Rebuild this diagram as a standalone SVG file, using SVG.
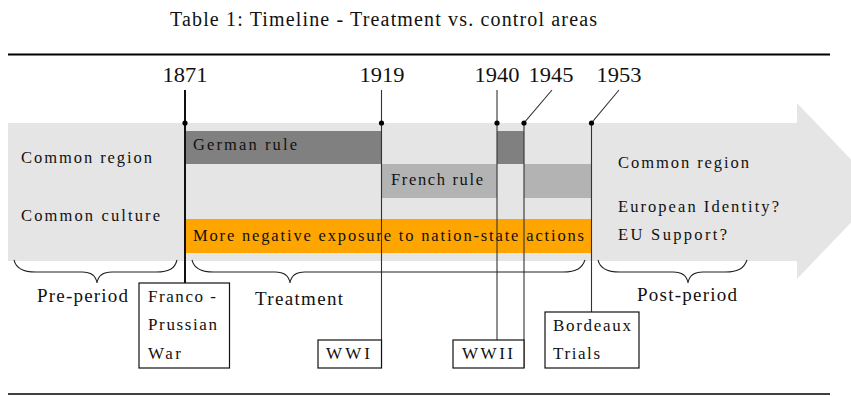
<svg xmlns="http://www.w3.org/2000/svg" width="851" height="396" viewBox="0 0 851 396">
<style>
text{font-family:"Liberation Serif","DejaVu Serif",serif;fill:#111}
.yr{font-size:22px;text-anchor:middle}
.lb{font-size:16.5px}
.bx{font-size:17px}
.pd{font-size:19px}
.cap{font-size:20px;text-anchor:middle}
.vl{stroke:#333;stroke-width:1.1;fill:none}
.box{fill:#fff;stroke:#111;stroke-width:1.2}
.brace{fill:none;stroke:#222;stroke-width:1.1}
.dot{fill:#000}
</style>
<rect width="851" height="396" fill="#fff"/>
<text class="cap" x="383.5" y="26" textLength="427" lengthAdjust="spacing">Table 1: Timeline - Treatment vs. control areas</text>
<line x1="8" y1="54.5" x2="830" y2="54.5" stroke="#000" stroke-width="2.2"/>
<line x1="8" y1="394" x2="830" y2="394" stroke="#000" stroke-width="1.4"/>

<g id="arrow">
<polygon points="8,123 797,123 797,103 881,191 797,279 797,261 8,261" fill="#e5e5e5"/>
</g>

<g id="bars">
<rect id="german" x="185" y="131" width="197" height="33" fill="#808080"/>
<rect id="german2" x="497" y="131" width="27" height="33" fill="#808080"/>
<rect id="french" x="382" y="164" width="115" height="34" fill="#b3b3b3"/>
<rect id="french2" x="524" y="164" width="68" height="34" fill="#b3b3b3"/>
<rect id="orange" x="185" y="219" width="407" height="34" fill="#ffa500"/>
</g>

<g id="labels">
<text class="lb" x="21" y="163" textLength="131" lengthAdjust="spacing">Common region</text>
<text class="lb" x="21" y="221" textLength="139" lengthAdjust="spacing">Common culture</text>
<text class="lb" x="193" y="150" textLength="104" lengthAdjust="spacing">German rule</text>
<text class="lb" x="391" y="185" textLength="92" lengthAdjust="spacing">French rule</text>
<text class="lb" x="193" y="241" textLength="391" lengthAdjust="spacing">More negative exposure to nation-state actions</text>
<text class="lb" x="618" y="168" textLength="131" lengthAdjust="spacing">Common region</text>
<text class="lb" x="618" y="212" textLength="161" lengthAdjust="spacing">European Identity?</text>
<text class="lb" x="618" y="240" textLength="109" lengthAdjust="spacing">EU Support?</text>
</g>

<g id="years">
<text class="yr" x="185" y="82" textLength="45" lengthAdjust="spacingAndGlyphs">1871</text>
<text class="yr" x="382" y="82" textLength="45" lengthAdjust="spacingAndGlyphs">1919</text>
<text class="yr" x="497" y="82" textLength="45" lengthAdjust="spacingAndGlyphs">1940</text>
<text class="yr" x="551" y="82" textLength="45" lengthAdjust="spacingAndGlyphs">1945</text>
<text class="yr" x="619" y="82" textLength="45" lengthAdjust="spacingAndGlyphs">1953</text>
</g>

<g id="connectors">
<line x1="185" y1="90" x2="185" y2="283" stroke="#111" stroke-width="2"/>
<line class="vl" x1="381.5" y1="90" x2="381.5" y2="368"/>
<line class="vl" x1="497" y1="90" x2="497" y2="340"/>
<polyline class="vl" points="552,90 524,123 524,368"/>
<polyline class="vl" points="619,90 591.5,123 591.5,312"/>
<circle class="dot" cx="185" cy="123" r="2.6"/>
<circle class="dot" cx="381.5" cy="123" r="2.6"/>
<circle class="dot" cx="497" cy="123" r="2.6"/>
<circle class="dot" cx="524" cy="123" r="2.6"/>
<circle class="dot" cx="591.5" cy="123" r="2.6"/>
</g>

<g id="braces">
<path class="brace" d="M14,260 C16,268 22,272 36,272 L82,272 C92,272 96,276 97,283 C98,276 102,272 112,272 L156,272 C170,272 175,268 177,260"/>
<path class="brace" d="M192,260 C194,268 200,272 214,272 L275,272 C285,272 289,276 290,283 C291,276 295,272 305,272 L563,272 C577,272 582,268 585,260"/>
<path class="brace" d="M598,260 C600,268 606,272 620,272 L673,272 C683,272 687,276 688,283 C689,276 693,272 703,272 L725,272 C739,272 744,268 747,260"/>
<text class="pd" x="37" y="302" textLength="91" lengthAdjust="spacing">Pre-period</text>
<text class="pd" x="255" y="305" textLength="88" lengthAdjust="spacing">Treatment</text>
<text class="pd" x="637" y="301" textLength="100" lengthAdjust="spacing">Post-period</text>
</g>

<g id="franco-prussian">
<rect class="box" x="139" y="283" width="90.5" height="85"/>
<text class="bx" x="148" y="302" textLength="68" lengthAdjust="spacing">Franco -</text>
<text class="bx" x="148" y="330" textLength="69" lengthAdjust="spacing">Prussian</text>
<text class="bx" x="148" y="359" textLength="33" lengthAdjust="spacing">War</text>
</g>

<g id="wwi">
<rect class="box" x="318" y="340" width="63.5" height="28"/>
<text class="bx" x="326" y="359" textLength="44" lengthAdjust="spacing">WWI</text>
</g>

<g id="wwii">
<rect class="box" x="453" y="340" width="71" height="28"/>
<text class="bx" x="462" y="359" textLength="51" lengthAdjust="spacing">WWII</text>
</g>

<g id="bordeaux">
<rect class="box" x="545" y="312" width="94" height="56"/>
<text class="bx" x="553" y="331" textLength="78" lengthAdjust="spacing">Bordeaux</text>
<text class="bx" x="553" y="359" textLength="47" lengthAdjust="spacing">Trials</text>
</g>
</svg>
